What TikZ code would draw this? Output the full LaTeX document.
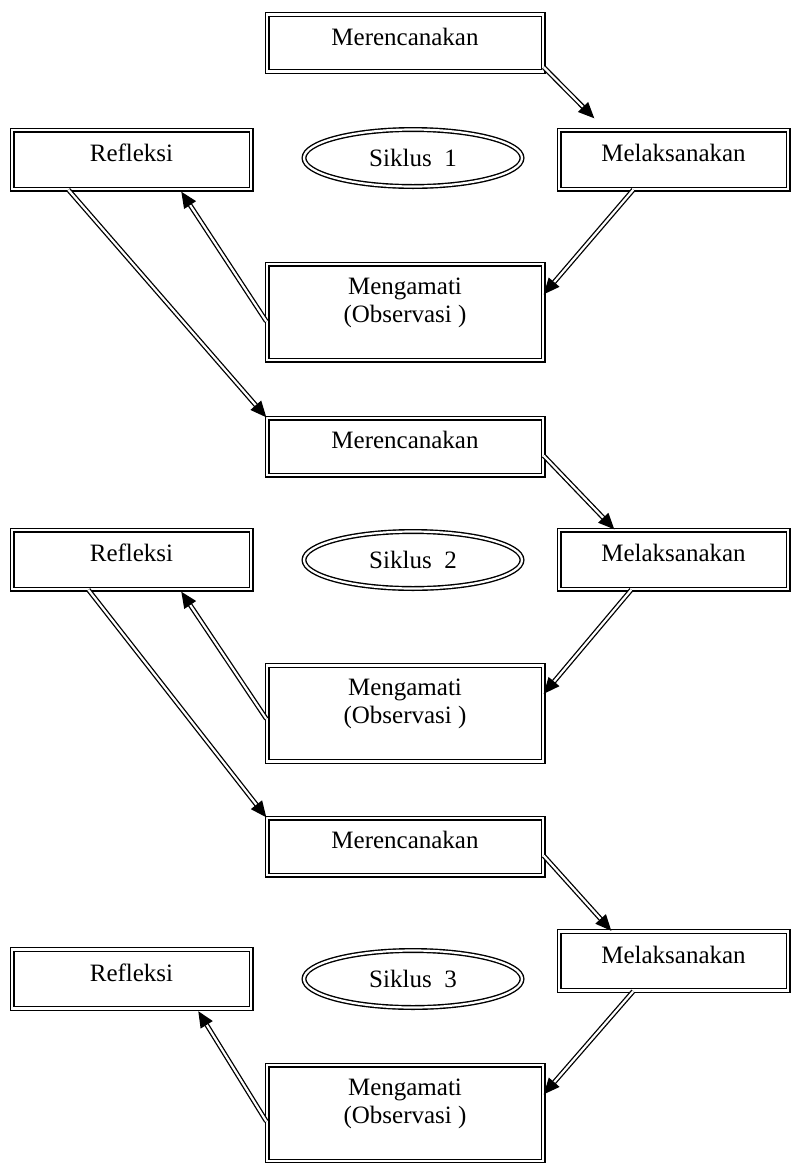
\documentclass[tikz,border=0pt]{standalone}
\usepackage{fontspec}
\setmainfont{Liberation Serif}
\usepackage{tikz}
\usetikzlibrary{arrows.meta,shapes.geometric}

\begin{document}
\begin{tikzpicture}[x=0.5pt,y=-0.5pt,
	garis/.style={draw,double,line width=0.7pt,double distance=1.1pt,inner sep=0pt,font=\fontsize{12.5}{14}\selectfont},
	kotak/.style={garis,text height=9pt,text depth=7pt},
	siklus/.style={garis,ellipse,minimum width=109pt,minimum height=28.5pt},
	panah/.style={draw,double,line width=0.65pt,double distance=1.1pt,-{Triangle[length=8pt,width=7pt]}}]
	\useasboundingbox (0,0) rectangle (791,1163);

	\node[kotak,minimum width=138pt,minimum height=28.5pt] (mer1) at (405,43) {Merencanakan};
	\node[kotak,minimum width=119.5pt,minimum height=29.5pt] (ref1) at (131.5,159.5) {Refleksi};
	\node[siklus] (sik1) at (413,158) {Siklus~~1};
	\node[kotak,minimum width=114.5pt,minimum height=29.5pt] (mel1) at (673.5,159.5) {Melaksanakan};
	\node[kotak,align=center,minimum width=138pt,minimum height=48pt,text height=23pt,text depth=13pt] (meng1) at (405,312) {Mengamati\\(Observasi )};

	\node[kotak,minimum width=138pt,minimum height=28.5pt] (mer2) at (405,446.5) {Merencanakan};
	\node[kotak,minimum width=119.5pt,minimum height=29.5pt] (ref2) at (131.5,559.5) {Refleksi};
	\node[siklus] (sik2) at (413,560) {Siklus~~2};
	\node[kotak,minimum width=114.5pt,minimum height=29.5pt] (mel2) at (673.5,559.5) {Melaksanakan};
	\node[kotak,align=center,minimum width=138pt,minimum height=48pt,text height=23pt,text depth=13pt] (meng2) at (405,713.5) {Mengamati\\(Observasi )};

	\node[kotak,minimum width=138pt,minimum height=28.5pt] (mer3) at (405,846.5) {Merencanakan};
	\node[kotak,minimum width=114.5pt,minimum height=29.5pt] (mel3) at (673.5,961) {Melaksanakan};
	\node[kotak,minimum width=119.5pt,minimum height=29.5pt] (ref3) at (131.5,979) {Refleksi};
	\node[siklus] (sik3) at (413,979) {Siklus~~3};
	\node[kotak,align=center,minimum width=138pt,minimum height=48pt,text height=23pt,text depth=13pt] (meng3) at (405,1113) {Mengamati\\(Observasi )};

	\draw[panah] ([yshift=2.5pt]mer1.south east) -- ([xshift=18pt,yshift=5.5pt]mel1.north west);
	\draw[panah] ([xshift=37.5pt]mel1.south west) -- ([yshift=-15.5pt]meng1.north east);
	\draw[panah] ([yshift=-29pt]meng1.north west) -- ([xshift=85pt,yshift=-1pt]ref1.south west);
	\draw[panah] ([xshift=28.5pt]ref1.south west) -- (mer2.north west);

	\draw[panah] ([yshift=10pt]mer2.south east) -- ([xshift=28pt]mel2.north west);
	\draw[panah] ([xshift=36.5pt]mel2.south west) -- ([yshift=-14.5pt]meng2.north east);
	\draw[panah] ([yshift=-27pt]meng2.north west) -- ([xshift=85pt,yshift=-1pt]ref2.south west);
	\draw[panah] ([xshift=38.5pt]ref2.south west) -- (mer3.north west);

	\draw[panah] ([yshift=10pt]mer3.south east) -- ([xshift=26.5pt]mel3.north west);
	\draw[panah] ([xshift=37.5pt]mel3.south west) -- ([yshift=-15pt]meng3.north east);
	\draw[panah] ([yshift=-28.5pt]meng3.north west) -- ([xshift=93.5pt,yshift=-1pt]ref3.south west);
\end{tikzpicture}
\end{document}
